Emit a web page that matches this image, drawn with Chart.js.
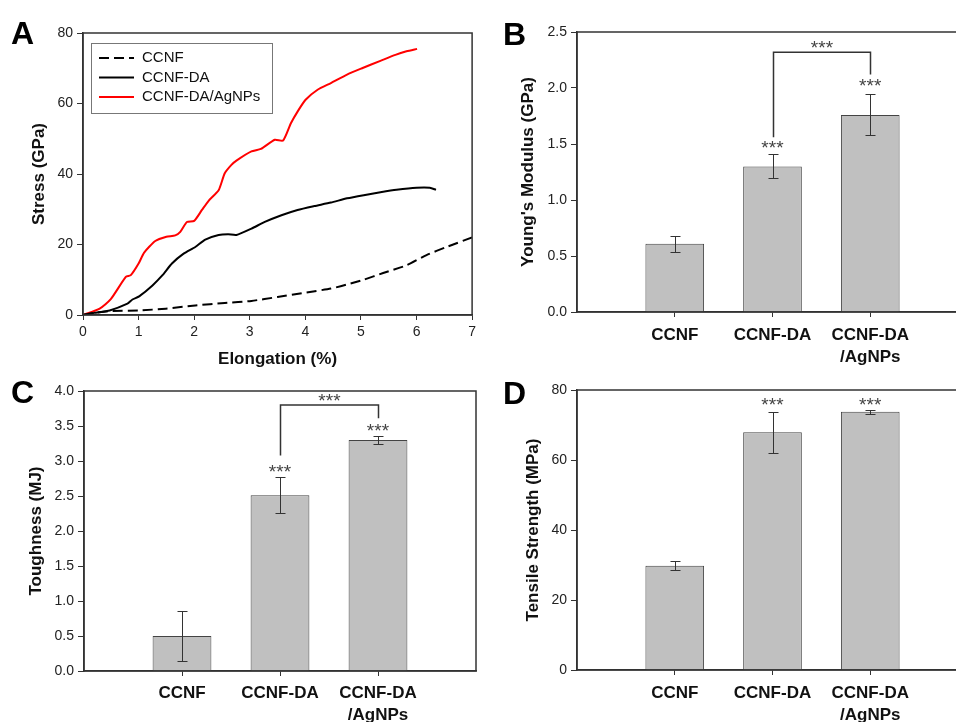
<!DOCTYPE html>
<html>
<head>
<meta charset="utf-8">
<script src="https://cdn.jsdelivr.net/npm/chart.js@4.4.0/dist/chart.umd.min.js"></script>
<style>
html, body { margin: 0; padding: 0; width: 956px; height: 722px; overflow: hidden; background: #fff; }
canvas { position: absolute; }
.letter { position: absolute; font: bold 32px "Liberation Sans", Arial, sans-serif; line-height: 1; color: #000; }
</style>
</head>
<body>
<canvas id="chartA" width="480" height="370" style="left:0;top:0"></canvas>
<canvas id="chartB" width="492" height="370" style="left:480px;top:0"></canvas>
<canvas id="chartC" width="480" height="352" style="left:0;top:370px"></canvas>
<canvas id="chartD" width="492" height="352" style="left:480px;top:370px"></canvas>
<div class="letter" style="left:11px;top:17px">A</div>
<div class="letter" style="left:503px;top:18px">B</div>
<div class="letter" style="left:11px;top:376px">C</div>
<div class="letter" style="left:503px;top:377px">D</div>
<script>
// Panel A: stress-strain curves
const elongCCNF = [0, 0.2, 0.48, 1.01, 1.49, 2.02, 2.55, 3.03, 3.5, 3.98, 4.46, 4.81, 5.05, 5.4, 5.82, 6.18, 6.54, 7.0];
const stressCCNF = [0, 0.6, 1.1, 1.3, 1.8, 2.7, 3.4, 4.0, 5.1, 6.3, 7.5, 8.9, 10.0, 11.9, 14.1, 17.0, 19.3, 22.0];

const elongDA = [0, 0.2, 0.48, 0.8, 0.89, 1.01, 1.25, 1.43, 1.6, 1.81, 2.02, 2.2, 2.44, 2.61, 2.76, 3.03, 3.27, 3.57, 3.86, 4.16, 4.46, 4.75, 5.05, 5.35, 5.64, 6.0, 6.24, 6.35];
const stressDA = [0, 0.6, 1.3, 3.2, 4.4, 5.3, 8.4, 11.3, 14.6, 17.4, 19.3, 21.4, 22.7, 22.9, 22.7, 24.5, 26.4, 28.3, 29.8, 30.9, 31.9, 33.1, 34.0, 34.8, 35.5, 36.1, 36.1, 35.5];

const elongAg = [0, 0.3, 0.5, 0.77, 0.86, 1.0, 1.1, 1.3, 1.5, 1.66, 1.75, 1.87, 2.0, 2.14, 2.26, 2.44, 2.55, 2.67, 2.76, 3.03, 3.2, 3.45, 3.6, 3.74, 3.86, 4.0, 4.22, 4.46, 4.75, 5.02, 5.35, 5.62, 5.82, 6.01];
const stressAg = [0, 1.8, 4.5, 10.8, 11.3, 14.6, 17.7, 21.0, 22.2, 22.6, 23.6, 26.4, 26.7, 29.8, 32.4, 35.4, 40.2, 42.6, 43.8, 46.4, 47.1, 49.7, 49.5, 54.4, 57.7, 61.0, 63.9, 65.8, 68.2, 70.0, 72.1, 73.8, 74.8, 75.5];

// Panels B-D: bar values and error bars
const categories = ['CCNF', 'CCNF-DA', ['CCNF-DA', '/AgNPs']];
const modulus = [0.61, 1.30, 1.76];
const modulusErr = [0.073, 0.107, 0.183];
const toughness = [0.50, 2.51, 3.30];
const toughnessErr = [0.355, 0.257, 0.062];
const strength = [29.8, 67.9, 73.8];
const strengthErr = [1.3, 5.9, 0.6];

// significance marks (y values in axis units)
const modulusStars = [null, 1.49, 2.05];
const modulusBracket = { from: 1, to: 2, left: 1.56, top: 2.32, right: 2.12, label: 2.39 };
const toughnessStars = [null, 2.89, 3.48];
const toughnessBracket = { from: 1, to: 2, left: 3.08, top: 3.80, right: 3.61, label: 3.90 };
const strengthStars = [null, 76.5, 76.7];

Chart.defaults.font.family = '"Liberation Sans", Arial, Helvetica, sans-serif';
Chart.defaults.color = '#222';

const AXIS = '#333';

// box around the plot area
const framePlugin = {
    id: 'frame',
    afterDatasetsDraw(chart) {
        const { ctx, chartArea: a } = chart;
        ctx.save();
        ctx.strokeStyle = AXIS;
        ctx.lineWidth = 1.5;
        ctx.strokeRect(a.left, a.top, a.right - a.left, a.bottom - a.top);
        ctx.restore();
    }
};

// legend box inside panel A
const insideLegend = {
    id: 'insideLegend',
    afterDraw(chart, args, opts) {
        if (!opts.show) return;
        const { ctx, chartArea } = chart;
        const x = chartArea.left + opts.x;
        const y = chartArea.top + opts.y;
        ctx.save();
        ctx.strokeStyle = '#777';
        ctx.lineWidth = 1;
        ctx.strokeRect(x + 0.5, y + 0.5, opts.width, opts.height);
        chart.data.datasets.forEach((ds, i) => {
            const rowY = y + opts.firstRow + i * opts.rowGap;
            ctx.beginPath();
            ctx.setLineDash(ds.borderDash || []);
            ctx.strokeStyle = ds.borderColor;
            ctx.lineWidth = ds.borderWidth;
            ctx.moveTo(x + 8, rowY);
            ctx.lineTo(x + 43, rowY);
            ctx.stroke();
            ctx.setLineDash([]);
            ctx.fillStyle = '#111';
            ctx.font = '15px "Liberation Sans", Arial, sans-serif';
            ctx.textBaseline = 'middle';
            ctx.fillText(ds.label, x + 51, rowY);
        });
        ctx.restore();
    }
};

// error bars + *** marks + bracket
const barExtras = {
    id: 'barExtras',
    afterDatasetsDraw(chart, args, opts) {
        if (!opts.errors) return;
        const { ctx } = chart;
        const yScale = chart.scales.y;
        const meta = chart.getDatasetMeta(0);
        const ds = chart.data.datasets[0];
        ctx.save();
        ctx.strokeStyle = AXIS;
        ctx.lineWidth = 1;
        meta.data.forEach((bar, i) => {
            const v = ds.data[i].y;
            const e = opts.errors[i];
            const x = Math.round(bar.x) + 0.5;
            const top = Math.round(yScale.getPixelForValue(v + e)) + 0.5;
            const bot = Math.round(yScale.getPixelForValue(v - e)) + 0.5;
            ctx.beginPath();
            ctx.moveTo(x, top); ctx.lineTo(x, bot);
            ctx.moveTo(x - 5, top); ctx.lineTo(x + 5, top);
            ctx.moveTo(x - 5, bot); ctx.lineTo(x + 5, bot);
            ctx.stroke();
        });

        const drawStars = (cx, cy) => {
            ctx.fillStyle = '#444';
            ctx.font = '19px "Liberation Sans", Arial, sans-serif';
            ctx.textAlign = 'center';
            ctx.textBaseline = 'middle';
            [-7.5, 0, 7.5].forEach(dx => ctx.fillText('*', cx + dx, cy + 4));
        };

        (opts.stars || []).forEach((s, i) => {
            if (s == null) return;
            drawStars(meta.data[i].x, yScale.getPixelForValue(s));
        });

        const b = opts.bracket;
        if (b) {
            const xl = Math.round(meta.data[b.from].x) + 0.5;
            const xr = Math.round(meta.data[b.to].x) + 0.5;
            ctx.strokeStyle = AXIS;
            ctx.lineWidth = 1.5;
            ctx.beginPath();
            ctx.moveTo(xl, yScale.getPixelForValue(b.left));
            ctx.lineTo(xl, yScale.getPixelForValue(b.top));
            ctx.lineTo(xr, yScale.getPixelForValue(b.top));
            ctx.lineTo(xr, yScale.getPixelForValue(b.right));
            ctx.stroke();
            drawStars((xl + xr) / 2, yScale.getPixelForValue(b.label));
        }
        ctx.restore();
    }
};

Chart.register(framePlugin, insideLegend, barExtras);

function yAxis(title, max, step, decimals, width, titlePad) {
    return {
        type: 'linear', min: 0, max: max,
        ticks: { stepSize: step, padding: 4, color: '#222', font: { size: 14 }, callback: v => v.toFixed(decimals) },
        grid: { drawOnChartArea: false, drawTicks: true, tickLength: 6, tickColor: AXIS },
        border: { color: AXIS, width: 1.5 },
        title: { display: true, text: title, color: '#111', font: { size: 17, weight: 'bold' }, padding: { top: titlePad, bottom: 0 } },
        afterFit: s => { s.width = width; }
    };
}

function catAxis(height, pad) {
    return {
        type: 'linear', min: 0, max: 4, offset: false,
        afterBuildTicks: s => { s.ticks = categories.map((c, i) => ({ value: i + 1 })); },
        ticks: { padding: pad, color: '#111', autoSkip: false, maxRotation: 0,
                 font: { size: 17, weight: 'bold', lineHeight: 1.3 },
                 callback: v => categories[v - 1] },
        grid: { drawOnChartArea: false, offset: false, tickLength: 5, tickColor: AXIS },
        border: { color: AXIS, width: 1.5 },
        afterFit: s => { s.height = height; }
    };
}

function barChart(id, values, errors, stars, bracket, yTitle, yMax, yStep, decimals, yWidth, titlePad, xHeight, xPad, padTop) {
    return new Chart(document.getElementById(id), {
        type: 'bar',
        data: {
            datasets: [{
                data: values.map((v, i) => ({ x: i + 1, y: v })),
                backgroundColor: '#c0c0c0',
                borderColor: '#444',
                borderWidth: 1,
                barPercentage: 0.6,
                categoryPercentage: 1
            }]
        },
        options: {
            responsive: false,
            animation: false,
            events: [],
            layout: { padding: { top: padTop, right: 4, left: 0, bottom: 0 } },
            scales: {
                x: catAxis(xHeight, xPad),
                y: yAxis(yTitle, yMax, yStep, decimals, yWidth, titlePad)
            },
            plugins: {
                legend: { display: false },
                tooltip: { enabled: false },
                barExtras: { errors: errors, stars: stars, bracket: bracket }
            }
        }
    });
}

const toPoints = (xs, ys) => xs.map((x, i) => ({ x: x, y: ys[i] }));

new Chart(document.getElementById('chartA'), {
    type: 'scatter',
    data: {
        datasets: [
            { label: 'CCNF', data: toPoints(elongCCNF, stressCCNF), borderColor: '#000', borderWidth: 2, borderDash: [10, 5] },
            { label: 'CCNF-DA', data: toPoints(elongDA, stressDA), borderColor: '#000', borderWidth: 2 },
            { label: 'CCNF-DA/AgNPs', data: toPoints(elongAg, stressAg), borderColor: '#ff0000', borderWidth: 2 }
        ]
    },
    options: {
        responsive: false,
        animation: false,
        events: [],
        showLine: true,
        elements: { point: { radius: 0 }, line: { tension: 0.2, fill: false } },
        layout: { padding: { top: 33, right: 4, left: 0, bottom: 0 } },
        scales: {
            x: {
                type: 'linear', min: 0, max: 7,
                ticks: { stepSize: 1, padding: 4, color: '#222', font: { size: 14 } },
                grid: { drawOnChartArea: false, tickLength: 5, tickColor: AXIS },
                border: { color: AXIS, width: 1.5 },
                title: { display: true, text: 'Elongation (%)', color: '#111', font: { size: 17, weight: 'bold' }, padding: { top: 0, bottom: 0 } },
                afterFit: s => { s.height = 55; }
            },
            y: yAxis('Stress (GPa)', 80, 20, 0, 83, 29)
        },
        plugins: {
            legend: { display: false },
            tooltip: { enabled: false },
            insideLegend: { show: true, x: 8, y: 10, width: 181, height: 70, firstRow: 15, rowGap: 19.5 }
        }
    }
});

barChart('chartB', modulus, modulusErr, modulusStars, modulusBracket, "Young's Modulus (GPa)", 2.5, 0.5, 1, 97, 38, 58, 7, 32);
barChart('chartC', toughness, toughnessErr, toughnessStars, toughnessBracket, 'Toughness (MJ)', 4.0, 0.5, 1, 84, 26, 51, 6, 21);
barChart('chartD', strength, strengthErr, strengthStars, null, 'Tensile Strength (MPa)', 80, 20, 0, 97, 43, 52, 7, 20);
</script>
</body>
</html>
